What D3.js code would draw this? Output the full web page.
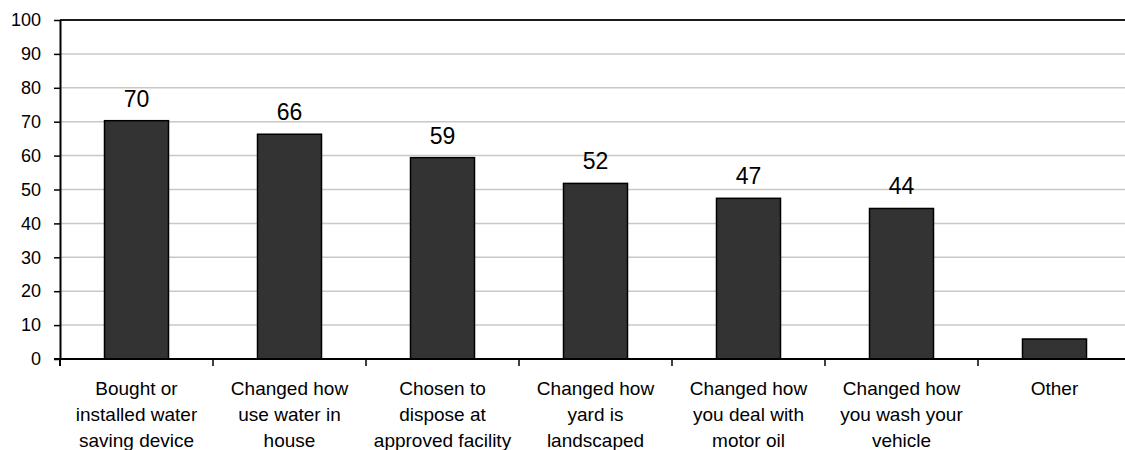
<!DOCTYPE html>
<html>
<head>
<meta charset="utf-8">
<script src="https://cdn.jsdelivr.net/npm/d3@7"></script>
<style>
  html, body { margin: 0; padding: 0; background: #fff; }
  svg { display: block; }
  text { font-family: "Liberation Sans", Arial, sans-serif; fill: #000; }
</style>
</head>
<body>
<svg id="chart" width="1125" height="450"></svg>
<script>
const categories = [
  ["Bought or", "installed water", "saving device"],
  ["Changed how", "use water in", "house"],
  ["Chosen to", "dispose at", "approved facility"],
  ["Changed how", "yard is", "landscaped"],
  ["Changed how", "you deal with", "motor oil"],
  ["Changed how", "you wash your", "vehicle"],
  ["Other"]
];
const values = [70.3, 66.3, 59.4, 51.8, 47.4, 44.4, 5.9];
const valueLabels = ["70", "66", "59", "52", "47", "44", ""];
const yTicks = [0, 10, 20, 30, 40, 50, 60, 70, 80, 90, 100];

const svg = d3.select("#chart");
const x0 = 60, step = 153;
const x = d3.scaleBand()
  .domain(d3.range(categories.length))
  .range([x0, x0 + step * categories.length])
  .paddingInner(0).paddingOuter(0);
const y = d3.scaleLinear().domain([0, 100]).range([359, 20]);

// gridlines
svg.append("g").selectAll("line").data(yTicks.filter(d => d > 0 && d < 100)).join("line")
  .attr("x1", x0).attr("x2", 1125)
  .attr("y1", d => y(d)).attr("y2", d => y(d))
  .attr("stroke", "#c8c8c8").attr("stroke-width", 1.5);

// top border
svg.append("line").attr("x1", x0).attr("x2", 1125)
  .attr("y1", y(100)).attr("y2", y(100))
  .attr("stroke", "#1a1a1a").attr("stroke-width", 2);

// bars
const barW = 64;
svg.append("g").selectAll("rect").data(values).join("rect")
  .attr("x", (d, i) => x(i) + x.bandwidth() / 2 - barW / 2)
  .attr("y", d => y(d))
  .attr("width", barW)
  .attr("height", d => y(0) - y(d))
  .attr("fill", "#333333")
  .attr("stroke", "#000")
  .attr("stroke-width", 1.5);

// value labels
svg.append("g").selectAll("text").data(values).join("text")
  .attr("x", (d, i) => x(i) + x.bandwidth() / 2)
  .attr("y", d => y(d) - 14)
  .attr("text-anchor", "middle")
  .attr("font-size", 23)
  .text((d, i) => valueLabels[i]);

// y axis
const yAxis = d3.axisLeft(y).tickValues(yTicks).tickSize(6).tickPadding(13).tickSizeOuter(0);
const gy = svg.append("g").attr("transform", `translate(${x0},0)`).call(yAxis);
gy.select(".domain").attr("stroke", "#000").attr("stroke-width", 2);
gy.selectAll(".tick line").attr("stroke", "#000").attr("stroke-width", 1.5);
gy.selectAll(".tick text").attr("font-size", 18).attr("font-family", "Liberation Sans, Arial, sans-serif").attr("fill", "#000");

// x axis line
svg.append("line").attr("x1", x0 - 6).attr("x2", 1125)
  .attr("y1", y(0)).attr("y2", y(0))
  .attr("stroke", "#000").attr("stroke-width", 2);
// vertical extension of y axis below 0
svg.append("line").attr("x1", x0).attr("x2", x0)
  .attr("y1", y(0)).attr("y2", y(0) + 7)
  .attr("stroke", "#000").attr("stroke-width", 2);
// x ticks at band boundaries
svg.append("g").selectAll("line").data(d3.range(1, categories.length)).join("line")
  .attr("x1", i => x(i)).attr("x2", i => x(i))
  .attr("y1", y(0)).attr("y2", y(0) + 7)
  .attr("stroke", "#000").attr("stroke-width", 1.5);

// category labels
const cat = svg.append("g").selectAll("text").data(categories).join("text")
  .attr("text-anchor", "middle")
  .attr("font-size", 19)
  .attr("x", (d, i) => x(i) + x.bandwidth() / 2)
  .attr("y", 395);
cat.selectAll("tspan").data(d => d).join("tspan")
  .attr("x", function () { return d3.select(this.parentNode).attr("x"); })
  .attr("dy", (d, j) => j === 0 ? 0 : 26)
  .text(d => d);
</script>
</body>
</html>
